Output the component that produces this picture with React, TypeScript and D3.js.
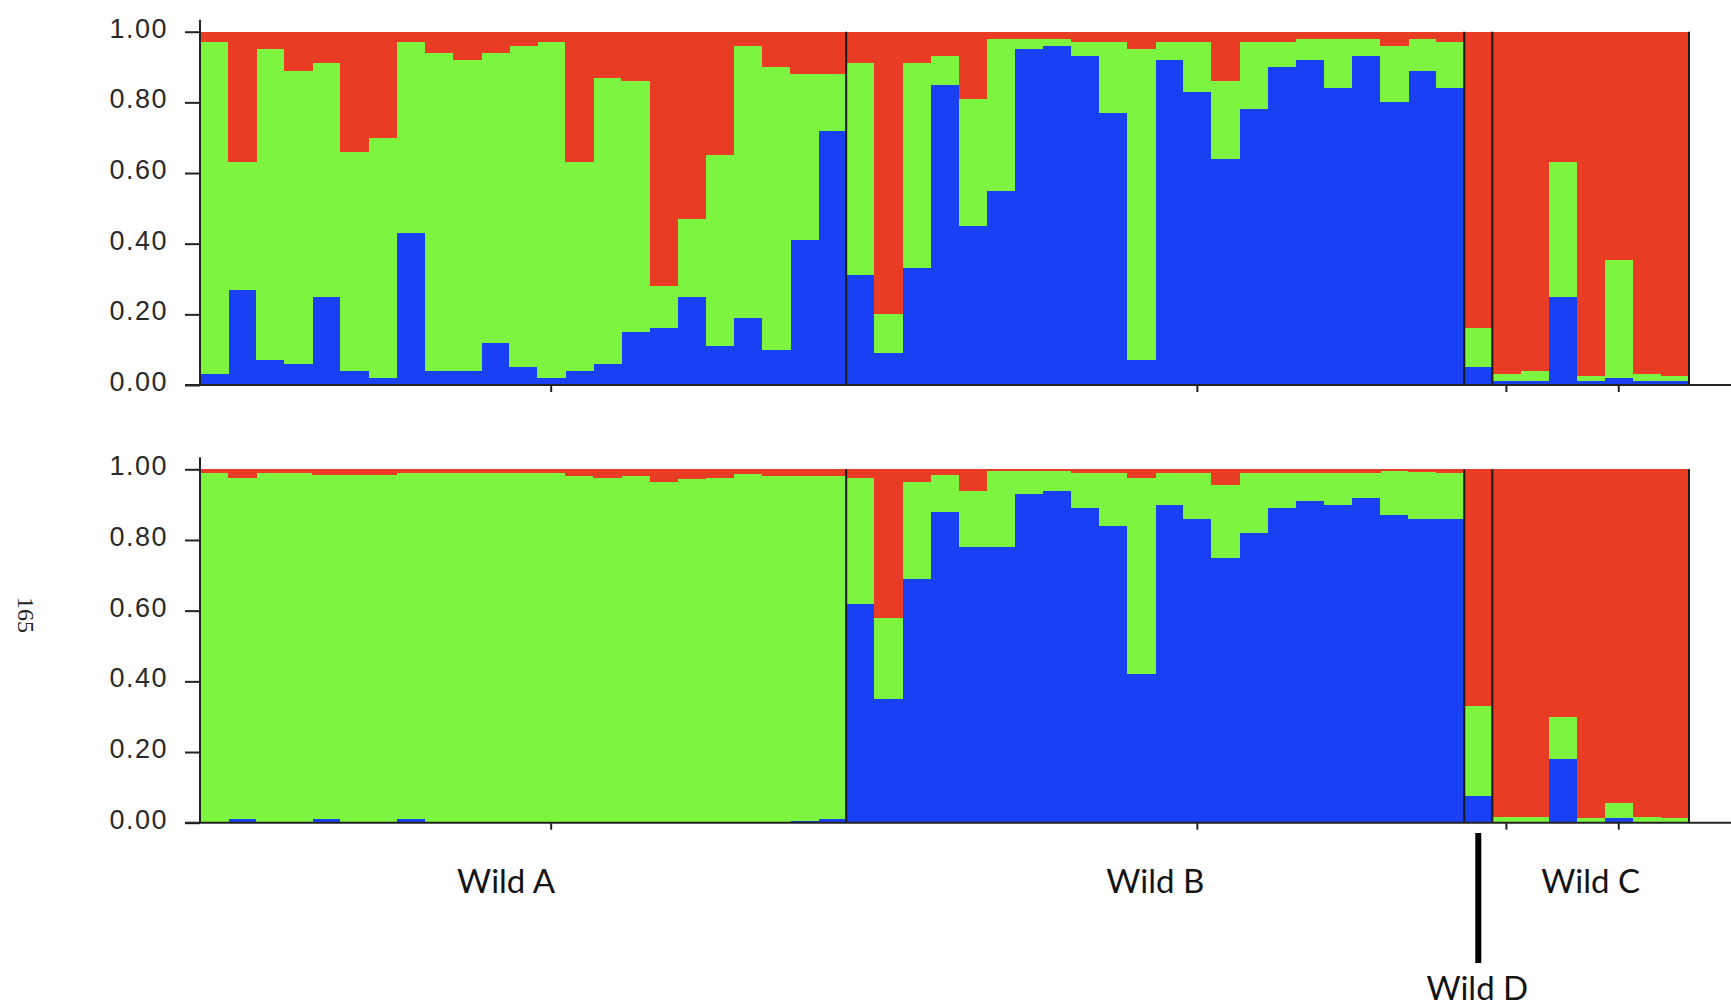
import { useEffect, useRef } from 'react'
import * as d3 from 'd3'

const populations = ['Wild A', 'Wild B', 'Wild D', 'Wild C']
const popSizes = [23, 22, 1, 7]

// membership per individual, order A(23) B(22) D(1) C(7); red = 1 - blue - green
const topBlue = [
  0.03, 0.27, 0.07, 0.06, 0.25, 0.04, 0.02, 0.43, 0.04, 0.04, 0.12, 0.05, 0.02, 0.04, 0.06, 0.15, 0.16, 0.25, 0.11, 0.19, 0.10, 0.41, 0.72,
  0.31, 0.09, 0.33, 0.85, 0.45, 0.55, 0.95, 0.96, 0.93, 0.77, 0.07, 0.92, 0.83, 0.64, 0.78, 0.90, 0.92, 0.84, 0.93, 0.80, 0.89, 0.84,
  0.05,
  0.01, 0.01, 0.25, 0.01, 0.02, 0.01, 0.01,
]
const topGreen = [
  0.94, 0.36, 0.88, 0.83, 0.66, 0.62, 0.68, 0.54, 0.90, 0.88, 0.82, 0.91, 0.95, 0.59, 0.81, 0.71, 0.12, 0.22, 0.54, 0.77, 0.80, 0.47, 0.16,
  0.60, 0.11, 0.58, 0.08, 0.36, 0.43, 0.03, 0.02, 0.04, 0.20, 0.88, 0.05, 0.14, 0.22, 0.19, 0.07, 0.06, 0.14, 0.05, 0.16, 0.09, 0.13,
  0.11,
  0.02, 0.03, 0.38, 0.015, 0.335, 0.02, 0.015,
]
const bottomBlue = [
  0, 0.01, 0, 0, 0.01, 0, 0, 0.01, 0, 0, 0, 0, 0, 0, 0, 0, 0, 0, 0, 0, 0, 0.005, 0.01,
  0.62, 0.35, 0.69, 0.88, 0.78, 0.78, 0.93, 0.94, 0.89, 0.84, 0.42, 0.90, 0.86, 0.75, 0.82, 0.89, 0.91, 0.90, 0.92, 0.87, 0.86, 0.86,
  0.075,
  0.002, 0.002, 0.18, 0.003, 0.012, 0.002, 0.002,
]
const bottomGreen = [
  0.99, 0.965, 0.99, 0.99, 0.975, 0.985, 0.985, 0.98, 0.99, 0.99, 0.99, 0.99, 0.99, 0.98, 0.975, 0.98, 0.965, 0.972, 0.975, 0.986, 0.98, 0.975, 0.97,
  0.355, 0.23, 0.275, 0.105, 0.16, 0.215, 0.065, 0.055, 0.10, 0.15, 0.555, 0.09, 0.13, 0.205, 0.17, 0.10, 0.08, 0.09, 0.07, 0.125, 0.133, 0.13,
  0.255,
  0.013, 0.013, 0.12, 0.009, 0.045, 0.013, 0.01,
]

const yTicks = [0, 0.2, 0.4, 0.6, 0.8, 1]
const xTickIdx = [12, 35, 46, 50]

const colors = { blue: '#1a40f4', green: '#7df43f', red: '#e83c25' }

export default function App() {
  const ref = useRef<SVGSVGElement>(null)

  useEffect(() => {
    const svg = d3.select(ref.current)
    svg.selectAll('*').remove()

    const W = 1731, H = 1007
    const left = 200, right = 1689
    const n = topBlue.length

    const x = d3.scaleBand<number>().domain(d3.range(n)).range([left, right]).padding(0)

    function panel(blue: number[], green: number[], y0: number, y1: number) {
      const y = d3.scaleLinear().domain([0, 1]).range([y0, y1])
      const rows = blue.map((b, i) => ({ i, blue: b, green: green[i], red: Math.max(0, 1 - b - green[i]) }))
      const series = d3.stack<any>().keys(['blue', 'green', 'red'])(rows)

      const g = svg.append('g')
      g.selectAll('g.layer')
        .data(series)
        .enter()
        .append('g')
        .attr('fill', (d: any) => (colors as any)[d.key])
        .selectAll('rect')
        .data((d: any) => d)
        .enter()
        .append('rect')
        .attr('x', (d: any) => x(d.data.i)!)
        .attr('width', x.bandwidth() + 0.6)
        .attr('y', (d: any) => y(d[1]))
        .attr('height', (d: any) => y(d[0]) - y(d[1]))
        .attr('shape-rendering', 'crispEdges')

      // population dividers
      let acc = 0
      const bounds: number[] = []
      popSizes.forEach((s) => {
        acc += s
        bounds.push(acc)
      })
      g.selectAll('line.div')
        .data(bounds)
        .enter()
        .append('line')
        .attr('x1', (d) => (d >= n ? right : x(d)!))
        .attr('x2', (d) => (d >= n ? right : x(d)!))
        .attr('y1', y(1))
        .attr('y2', y(0))
        .attr('stroke', '#1a1a1a')
        .attr('stroke-width', 2)

      // y axis
      const ya = g.append('g')
        .attr('transform', `translate(${left},0)`)
        .call(d3.axisLeft(y).tickValues(yTicks).tickFormat(d3.format('.2f')).tickSize(15).tickPadding(17))
      ya.select('.domain').remove()
      ya.selectAll('line').attr('stroke', '#222').attr('stroke-width', 2)
      ya.selectAll('text')
        .attr('font-family', '"Liberation Sans", Arial, sans-serif')
        .attr('font-size', 27)
        .attr('letter-spacing', 1.5)
        .attr('fill', '#2a2a2a')
        .attr('dy', '0.2em')
      g.append('line')
        .attr('x1', left).attr('x2', left)
        .attr('y1', y(1) - 12).attr('y2', y(0))
        .attr('stroke', '#222').attr('stroke-width', 2)

      // x axis
      const xa = g.append('g')
        .attr('transform', `translate(0,${y0})`)
        .call(d3.axisBottom(x).tickValues(xTickIdx).tickFormat(() => '').tickSize(7))
      xa.select('.domain').remove()
      xa.selectAll('line').attr('stroke', '#222').attr('stroke-width', 2)
      g.append('line')
        .attr('x1', left - 15).attr('x2', W)
        .attr('y1', y0).attr('y2', y0)
        .attr('stroke', '#222').attr('stroke-width', 2)
    }

    panel(topBlue, topGreen, 385, 31.7)
    panel(bottomBlue, bottomGreen, 822.7, 469.3)

    // population labels
    let start = 0
    const labelFont = 'Lato, "Open Sans", sans-serif'
    populations.forEach((p, k) => {
      const s = popSizes[k]
      const cx = (x(start)! + (start + s >= n ? right : x(start + s)!)) / 2
      start += s
      if (p === 'Wild D') {
        svg.append('line')
          .attr('x1', cx).attr('x2', cx)
          .attr('y1', 833).attr('y2', 963)
          .attr('stroke', '#000').attr('stroke-width', 6)
        svg.append('text')
          .attr('x', cx - 1).attr('y', 1000)
          .attr('text-anchor', 'middle')
          .attr('font-family', labelFont).attr('font-size', 33).attr('fill', '#141414')
          .text(p)
      } else {
        svg.append('text')
          .attr('x', cx + (p === 'Wild A' ? -17 : 0)).attr('y', 893)
          .attr('text-anchor', 'middle')
          .attr('font-family', labelFont).attr('font-size', 33).attr('fill', '#141414')
          .text(p)
      }
    })

    // page number
    svg.append('text')
      .attr('transform', 'translate(18,615) rotate(90)')
      .attr('text-anchor', 'middle')
      .attr('font-family', '"Liberation Serif", serif')
      .attr('font-size', 24)
      .attr('fill', '#222')
      .text('165')

    svg.attr('width', W).attr('height', H)
  }, [])

  return (
    <svg
      ref={ref}
      width={1731}
      height={1007}
      style={{ position: 'absolute', left: 0, top: 0, background: '#fff' }}
    />
  )
}
